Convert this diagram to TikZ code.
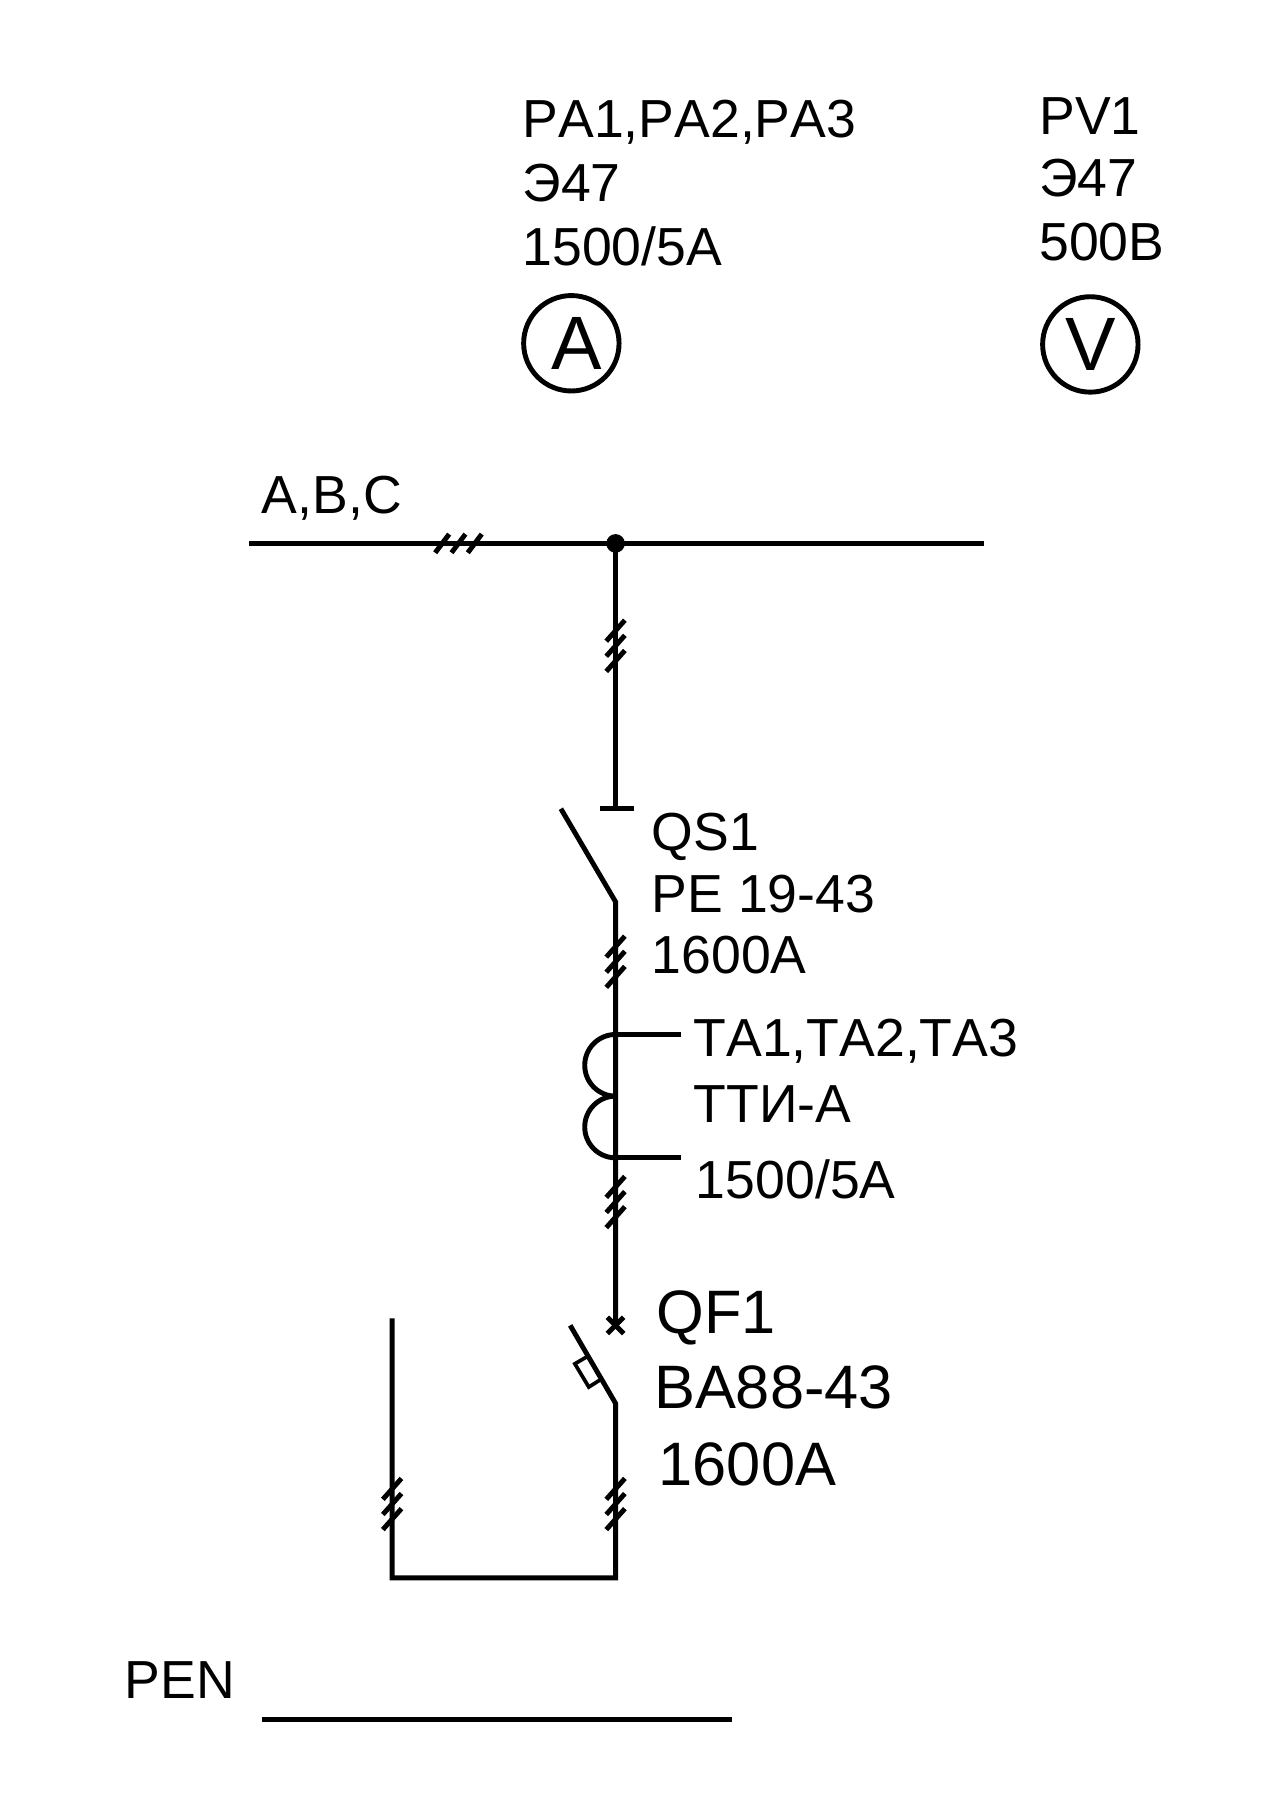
\documentclass[tikz,border=0pt]{standalone}
\usepackage{fontspec}
\setmainfont[Kerning=Off]{Liberation Sans}
\begin{document}
\begin{tikzpicture}[line width=1.2pt,
main node/.style={circle,draw,minimum size=.82cm,inner sep=0pt,font=\fontsize{18.5}{20}\selectfont},
label node/.style={anchor=base west,inner sep=0pt,font=\fontsize{13.1}{16}\selectfont},
big node/.style={label node,font=\fontsize{15}{18}\selectfont},
slashes/.pic={\draw (-.08,-.22)--(.08,-.04) (-.08,-.09)--(.08,.09) (-.08,.04)--(.08,.22);},
hslashes/.pic={\draw (-.21,-.08)--(-.09,.08) (-.07,-.08)--(.05,.08) (.07,-.08)--(.19,.08);}]
\useasboundingbox (0,0) rectangle (11,15.46);
\begin{scope}[every node/.style={label node}]
\node (pa1) at (4.47,14.275) {PA1,PA2,PA3};
\node (pa2) at (4.47,13.73) {Э47};
\node (pa3) at (4.47,13.18) {1500/5А};
\node (pv1) at (8.91,14.30) {PV1};
\node (pv2) at (8.91,13.77) {Э47};
\node (pv3) at (8.91,13.22) {500В};
\node (abc) at (2.23,11.05) {A,B,C};
\node (qs1) at (5.58,8.15) {QS1};
\node (qs2) at (5.58,7.62) {РЕ 19-43};
\node (qs3) at (5.58,7.09) {1600А};
\node (ta1) at (5.94,6.38) {TA1,TA2,TA3};
\node (ta2) at (5.94,5.81) {ТТИ-А};
\node (ta3) at (5.96,5.16) {1500/5А};
\node (pen) at (1.05,0.86) {PEN};
\end{scope}
\begin{scope}[every node/.style={big node}]
\node (qf1) at (5.62,4.00) {QF1};
\node (qf2) at (5.60,3.355) {ВА88-43};
\node (qf3) at (5.64,2.69) {1600А};
\end{scope}
\node[main node] (ammeter) at (4.91,12.51) {\hspace{.1cm}A};
\node[main node] (voltmeter) at (9.37,12.50) {V};
\coordinate (busL) at (2.14,10.79);
\coordinate (busR) at (8.46,10.79);
\coordinate (tap) at (5.29,10.79);
\coordinate (qsTop) at (5.29,8.51);
\coordinate (barL) at (5.16,8.51);
\coordinate (barR) at (5.45,8.51);
\coordinate (qsEnd) at (4.82,8.51);
\coordinate (qsPivot) at (5.29,7.71);
\coordinate (coilA) at (5.29,6.57);
\coordinate (coilB) at (5.29,6.04);
\coordinate (coilC) at (5.29,5.51);
\coordinate (coilAr) at (5.85,6.57);
\coordinate (coilCr) at (5.85,5.51);
\coordinate (qfTop) at (5.29,4.07);
\coordinate (qfEnd) at (4.90,4.07);
\coordinate (qfPivot) at (5.29,3.40);
\coordinate (cornerR) at (5.29,1.90);
\coordinate (cornerL) at (3.37,1.90);
\coordinate (retTop) at (3.37,4.13);
\coordinate (penL) at (2.25,0.68);
\coordinate (penR) at (6.29,0.68);
\fill (tap) circle (.08);
\begin{scope}
\draw (busL) -- (busR);
\draw (tap) -- (qsTop);
\draw (barL) -- (barR);
\draw (qsEnd) -- (qsPivot) -- (qfTop);
\draw (coilA) -- (coilAr);
\draw (coilC) -- (coilCr);
\draw (coilA) arc[start angle=90,end angle=270,radius=.265];
\draw (coilB) arc[start angle=90,end angle=270,radius=.265];
\draw (qfTop) ++(-.07,.07) -- ++(.14,-.14);
\draw (qfTop) ++(.07,.07) -- ++(-.14,-.14);
\draw (qfEnd) -- (qfPivot) -- (cornerR) -- (cornerL) -- (retTop);
\draw (penL) -- (penR);
\draw[line width=.9pt] (5.06,3.81) -- (4.94,3.74) -- (5.06,3.54) -- (5.17,3.61);
\end{scope}
\pic at (3.95,10.79) {hslashes};
\pic at (5.29,9.91) {slashes};
\pic at (5.29,7.195) {slashes};
\pic at (5.29,5.13) {slashes};
\pic at (5.29,2.535) {slashes};
\pic at (3.37,2.535) {slashes};
\end{tikzpicture}
\end{document}
